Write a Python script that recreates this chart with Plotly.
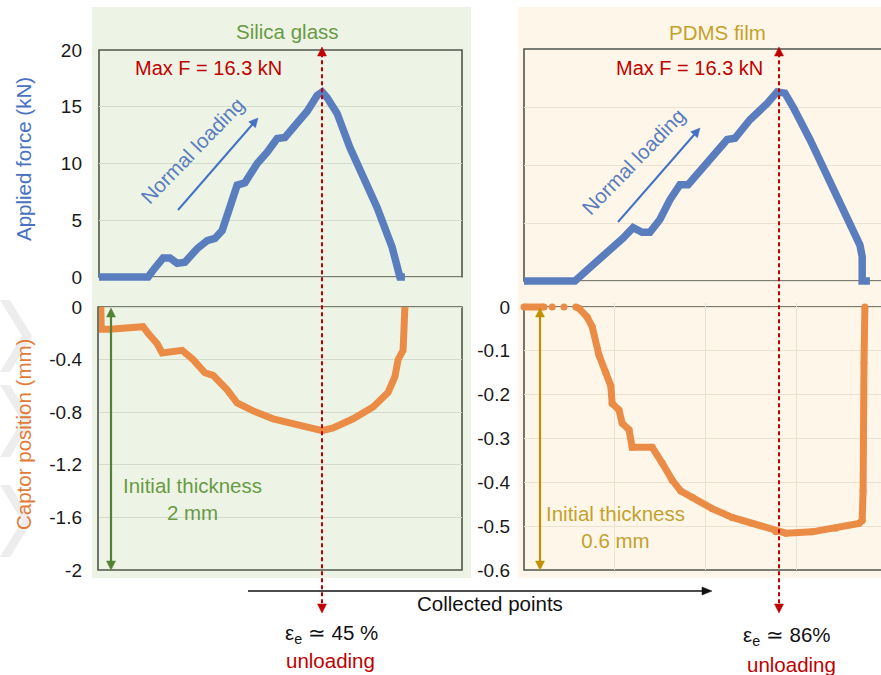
import math
import plotly.graph_objects as go

# ---------------- data ----------------
# x = collected points index
silica_force_x = [0, 108, 119, 141, 156, 172, 189, 216, 238, 255, 271, 288, 304, 321, 348, 370, 392, 409,
                  427, 458, 480, 491, 502, 524, 552, 581, 612, 645, 656, 662, 673]
silica_force = [0, 0, 0.6, 1.67, 1.67, 1.2, 1.3, 2.5, 3.2, 3.4, 4.1, 6.1, 8.1, 8.3, 10, 11, 12.2, 12.3,
                13.2, 14.6, 16, 16.3, 15.8, 14.4, 11.4, 8.8, 6.1, 2.6, 0.9, 0, 0]

silica_pos_x = [4, 4, 5, 24, 97, 108, 128, 139, 156, 183, 207, 233, 251, 282, 304, 339, 383, 427, 471,
                491, 515, 559, 603, 636, 651, 658, 669, 671, 673]
silica_pos = [0, -0.08, -0.17, -0.17, -0.15, -0.2, -0.28, -0.35, -0.34, -0.33, -0.4, -0.5, -0.52, -0.63,
              -0.73, -0.79, -0.85, -0.89, -0.92, -0.94, -0.92, -0.85, -0.76, -0.65, -0.53, -0.4, -0.33,
              -0.13, 0]

pdms_force_x = [0, 112, 139, 183, 218, 240, 260, 277, 299, 321, 343, 361, 403, 447, 464, 497, 535, 557,
                574, 592, 629, 667, 702, 739, 744, 744, 761]
pdms_force = [0, 0, 0.95, 2.4, 3.7, 4.6, 4.2, 4.2, 5.3, 7.0, 8.3, 8.3, 10.2, 12.2, 12.3, 13.9, 15.3, 16.3,
              16.2, 15, 12.2, 9, 6.1, 3.1, 2.1, 0, 0]

pdms_pos_x = [0, 44, None, 62, None, 88, None, 114, 121, 139, 150, 165, 180, 191, 194, 209, 216, 231, 238,
              282, 304, 326, 345, 370, 414, 458, 502, 554, 576, 634, 686, 737, 744, 746, 748, 750]
pdms_pos = [0, 0, None, 0, None, 0, None, 0, -0.003, -0.023, -0.045, -0.11, -0.15, -0.18, -0.22, -0.235,
            -0.265, -0.28, -0.32, -0.32, -0.356, -0.395, -0.42, -0.434, -0.46, -0.48, -0.494, -0.513,
            -0.516, -0.513, -0.505, -0.494, -0.487, -0.42, -0.128, 0]

force_ticks = [0, 5, 10, 15, 20]
force_ticktext = ["0", "5", "10", "15", "20"]
silica_pos_ticks = [0, -0.4, -0.8, -1.2, -1.6, -2]
silica_pos_ticktext = ["0", "-0.4", "-0.8", "-1.2", "-1.6", "-2"]
pdms_pos_ticks = [0, -0.1, -0.2, -0.3, -0.4, -0.5, -0.6]
pdms_pos_ticktext = ["0", "-0.1", "-0.2", "-0.3", "-0.4", "-0.5", "-0.6"]
pdms_vgrid = [200, 400, 600]

# ---------------- layout helpers ----------------
W, H = 881, 675
PPX = 2.2  # collected points per pixel


def px(x):
    return x / W


def py(y):
    return 1 - y / H


FONT = "Liberation Sans, Arial, sans-serif"
BLUE = "#5a7dbe"
ORANGE = "#eb8c46"
RED = "#c00000"
GREEN_T = "#6a9a45"
GOLD_T = "#c4a12c"
FRAME = "#50564b"
TICKC = "#1a1a1a"

fig = go.Figure()

fig.add_trace(go.Scatter(x=silica_force_x, y=silica_force, xaxis="x", yaxis="y", mode="lines",
                         line=dict(color=BLUE, width=7.5), hoverinfo="skip"))
fig.add_trace(go.Scatter(x=silica_pos_x, y=silica_pos, xaxis="x2", yaxis="y2", mode="lines",
                         line=dict(color=ORANGE, width=7), hoverinfo="skip"))
fig.add_trace(go.Scatter(x=pdms_force_x, y=pdms_force, xaxis="x3", yaxis="y3", mode="lines",
                         line=dict(color=BLUE, width=7.5), hoverinfo="skip"))
fig.add_trace(go.Scatter(x=pdms_pos_x, y=pdms_pos, xaxis="x4", yaxis="y4", mode="lines+markers",
                         line=dict(color=ORANGE, width=7), marker=dict(color=ORANGE, size=7),
                         cliponaxis=False, connectgaps=False, hoverinfo="skip"))

# frame geometry (pixels)
LX0, LX1 = 99, 462
RX0 = 524
LT_T, LT_B = 50, 277
RT_T, RT_B = 49, 281
B_T, B_B = 307, 570
PAD = 4

ax_common = dict(showline=False, zeroline=False, ticks="", fixedrange=True, automargin=False)
gl = "#d3dbcb"
gr = "#ebe2d1"

layout_axes = dict(
    xaxis=dict(domain=[px(LX0), px(LX1)], range=[0, (LX1 - LX0) * PPX], showgrid=False,
               showticklabels=False, anchor="y", **ax_common),
    yaxis=dict(domain=[py(LT_B + PAD), py(LT_T)], range=[-PAD * 20 / (LT_B - LT_T), 20],
               tickvals=force_ticks, ticktext=force_ticktext, showgrid=True, gridcolor=gl,
               gridwidth=1, anchor="x", ticklabelstandoff=16,
               tickfont=dict(family=FONT, size=19, color=TICKC), **ax_common),
    xaxis2=dict(domain=[px(LX0), px(LX1)], range=[0, (LX1 - LX0) * PPX], showgrid=False,
                showticklabels=False, anchor="y2", **ax_common),
    yaxis2=dict(domain=[py(B_B), py(B_T - PAD)], range=[-2, PAD * 2 / (B_B - B_T)],
                tickvals=silica_pos_ticks, ticktext=silica_pos_ticktext, showgrid=True,
                gridcolor=gl, gridwidth=1, anchor="x2", ticklabelstandoff=16,
                tickfont=dict(family=FONT, size=19, color=TICKC), **ax_common),
    xaxis3=dict(domain=[px(RX0), 1], range=[0, (W - RX0) * PPX], showgrid=False,
                showticklabels=False, anchor="y3", **ax_common),
    yaxis3=dict(domain=[py(RT_B + PAD), py(RT_T)], range=[-PAD * 20 / (RT_B - RT_T), 20],
                tickvals=force_ticks, showticklabels=False, showgrid=True, gridcolor=gr,
                gridwidth=1, anchor="x3", **ax_common),
    xaxis4=dict(domain=[px(RX0), 1], range=[0, (W - RX0) * PPX], tickvals=pdms_vgrid,
                showgrid=True, gridcolor=gr, gridwidth=1, showticklabels=False, anchor="y4",
                **ax_common),
    yaxis4=dict(domain=[py(B_B), py(B_T - PAD)], range=[-0.6, PAD * 0.6 / (B_B - B_T)],
                tickvals=pdms_pos_ticks, ticktext=pdms_pos_ticktext, showgrid=True,
                gridcolor=gr, gridwidth=1, anchor="x4", ticklabelstandoff=13,
                tickfont=dict(family=FONT, size=19, color=TICKC), **ax_common),
)

shapes = []
# panel backgrounds
shapes.append(dict(type="rect", xref="paper", yref="paper", x0=px(92), x1=px(471), y0=py(578), y1=py(7),
                   fillcolor="#edf4e6", line=dict(width=0), layer="below"))
shapes.append(dict(type="rect", xref="paper", yref="paper", x0=px(518), x1=px(890), y0=py(578), y1=py(7),
                   fillcolor="#fef7e9", line=dict(width=0), layer="below"))
# faint chevrons at left edge
for y0 in (300, 385, 485):
    path = (f"M {px(0)},{py(y0)} L {px(10)},{py(y0)} L {px(32)},{py(y0 + 36)} L {px(10)},{py(y0 + 72)} "
            f"L {px(0)},{py(y0 + 72)} L {px(22)},{py(y0 + 36)} Z")
    shapes.append(dict(type="path", xref="paper", yref="paper", path=path, fillcolor="#ededed",
                       line=dict(width=0), layer="below"))
# frames
shapes.append(dict(type="rect", xref="paper", yref="paper", x0=px(LX0), x1=px(LX1), y0=py(LT_B), y1=py(LT_T),
                   line=dict(color=FRAME, width=1.6), layer="between"))
shapes.append(dict(type="rect", xref="paper", yref="paper", x0=px(LX0 - 1), x1=px(LX1), y0=py(B_B), y1=py(B_T),
                   line=dict(color=FRAME, width=1.6), layer="between"))
shapes.append(dict(type="path", xref="paper", yref="paper",
                   path=f"M {px(890)},{py(RT_T)} L {px(RX0)},{py(RT_T)} L {px(RX0)},{py(RT_B)} L {px(890)},{py(RT_B)}",
                   line=dict(color=FRAME, width=1.6), layer="between"))
shapes.append(dict(type="path", xref="paper", yref="paper",
                   path=f"M {px(890)},{py(B_T)} L {px(RX0)},{py(B_T)} L {px(RX0)},{py(B_B)} L {px(890)},{py(B_B)}",
                   line=dict(color=FRAME, width=1.6), layer="between"))


def head(xh, yh, xt, yt, color, hl, hw):
    """filled triangular arrow head at (xh, yh) pointing away from (xt, yt), pixel units"""
    dx, dy = xh - xt, yh - yt
    n = math.hypot(dx, dy)
    ux, uy = dx / n, dy / n
    bx, by = xh - hl * ux, yh - hl * uy
    p1 = (bx - hw * uy, by + hw * ux)
    p2 = (bx + hw * uy, by - hw * ux)
    path = (f"M {px(xh)},{py(yh)} L {px(p1[0])},{py(p1[1])} L {px(p2[0])},{py(p2[1])} Z")
    shapes.append(dict(type="path", xref="paper", yref="paper", path=path, fillcolor=color,
                       line=dict(color=color, width=0.5), layer="above"))
    return bx + 0.3 * hl * ux, by + 0.3 * hl * uy


def arrow(xh, yh, xt, yt, color, width, both=False, hl=9, hw=4.5, dash=None):
    ex, ey = head(xh, yh, xt, yt, color, hl, hw)
    sx, sy = xt, yt
    if both:
        sx, sy = head(xt, yt, xh, yh, color, hl, hw)
    line = dict(color=color, width=width)
    if dash:
        line["dash"] = dash
    shapes.append(dict(type="line", xref="paper", yref="paper", x0=px(sx), y0=py(sy), x1=px(ex), y1=py(ey),
                       line=line, layer="above"))


arrow(258, 118, 178, 210, "#4472c4", 2)
arrow(700, 128, 618, 222, "#4472c4", 2)
arrow(111, 570, 111, 308, "#548235", 2.2, both=True)
arrow(540, 570, 540, 308, "#bf9000", 2.2, both=True)
arrow(712, 591, 248, 591, "#111111", 1.3, hl=10, hw=4)
# red dashed unloading lines with heads at both ends
for xl in (322, 779):
    arrow(xl, 613, xl, 47, RED, 2, both=True, hl=9, hw=4.5, dash="4px,3px")

ann = []


def text(x, y, t, color, size=20.5, angle=0, **kw):
    ann.append(dict(x=px(x), y=py(y), xref="paper", yref="paper", text=t, showarrow=False,
                    font=dict(family=FONT, size=size, color=color), textangle=angle,
                    xanchor="center", yanchor="middle", **kw))


text(287, 31, "Silica glass", GREEN_T)
text(717, 32, "PDMS film", GOLD_T)
text(208, 68, "Max F = 16.3 kN", RED, size=20)
text(689, 68, "Max F = 16.3 kN", RED, size=20)
text(192, 150, "Normal loading", BLUE, angle=-46)
text(633, 161, "Normal loading", BLUE, angle=-46)
text(192, 499, "Initial thickness<br>2 mm", GREEN_T)
text(615, 527, "Initial thickness<br>0.6 mm", GOLD_T)
text(490, 603, "Collected points", "#111111")
text(331, 634, "ε<sub>e</sub> ≃ 45 %", "#111111")
text(330, 660, "unloading", RED)
text(787, 636, "ε<sub>e</sub> ≃ 86%", "#111111")
text(791, 664, "unloading", RED)
text(24, 159, "Applied force (kN)", "#4a72c0", angle=-90)
text(23, 435, "Captor position (mm)", "#e07b39", angle=-90)

fig.update_layout(width=W, height=H, margin=dict(l=0, r=0, t=0, b=0, autoexpand=False), showlegend=False,
                  paper_bgcolor="white", plot_bgcolor="rgba(0,0,0,0)", shapes=shapes,
                  annotations=ann, font=dict(family=FONT), **layout_axes)

fig.write_html("out.html", config={"displayModeBar": False},
               post_script="document.body.style.margin='0px';")
